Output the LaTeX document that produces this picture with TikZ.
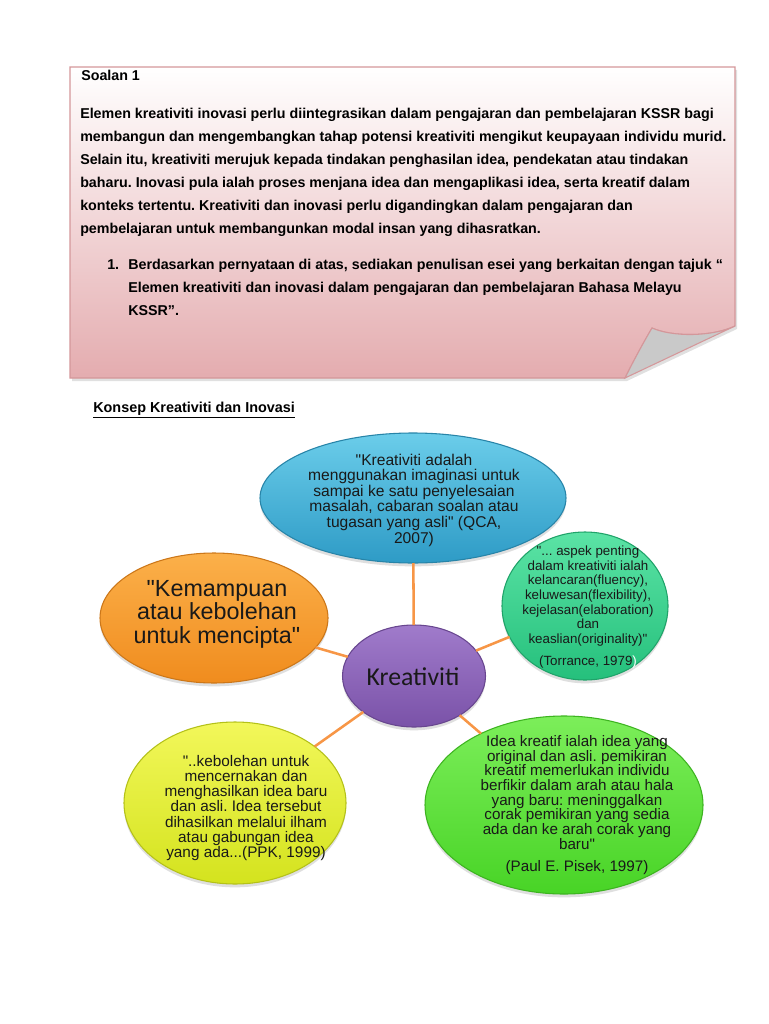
\documentclass[tikz,border=0pt]{standalone}
\usepackage{fontspec}
\setmainfont{Liberation Sans}[Ligatures=TeXOff]
\newfontfamily\calibfont{Carlito}
\usetikzlibrary{shapes.geometric,shadows}
\frenchspacing

\definecolor{linkorange}{HTML}{F79646}
\definecolor{notepink}{HTML}{E4ACAF}
\definecolor{noteedge}{HTML}{D4979A}
\definecolor{foldgrey}{HTML}{C9C9C9}
\definecolor{qcatop}{HTML}{6BCDEA}
\definecolor{qcabot}{HTML}{2E9BC6}
\definecolor{torrtop}{HTML}{5BE3A5}
\definecolor{torrbot}{HTML}{25C07C}
\definecolor{ciptatop}{HTML}{FBB04A}
\definecolor{ciptabot}{HTML}{F08C1E}
\definecolor{kretop}{HTML}{A07BCB}
\definecolor{krebot}{HTML}{7A52A8}
\definecolor{ppktop}{HTML}{F2F75A}
\definecolor{ppkbot}{HTML}{D4E31E}
\definecolor{pisektop}{HTML}{7CEE5A}
\definecolor{pisekbot}{HTML}{48D426}

\tikzset{
  bubble/.style={ellipse, line width=0.8pt, inner sep=0pt, outer sep=0pt,
    drop shadow={opacity=0.25, shadow xshift=0pt, shadow yshift=-2.5pt}},
  btext/.style={align=center, inner sep=0pt, text=black!90},
  notetext/.style={font=\bfseries\fontsize{10.7}{17.25}\selectfont, inner sep=0pt},
  link/.style={draw=linkorange, line width=1.9pt},
}

\begin{document}
\begin{tikzpicture}[x=0.75pt,y=0.75pt,yscale=-1,xscale=1]
\useasboundingbox (0,0) rectangle (768,1024);
\fill[white] (0,0) rectangle (768,1024);

% kertas soalan
\fill[black, opacity=0.12] (72,70) -- (737,70) -- (737,329) -- (627,381) -- (72,381) -- cycle ;
\draw[noteedge, line width=0.8pt, top color=white, bottom color=notepink]
  (70,67) -- (735,67) -- (735,326) .. controls (712,337) and (672,337) .. (652,328)
  .. controls (642,345) and (633,362) .. (625,378) -- (70,378) -- cycle ;
\draw[noteedge, line width=0.8pt, fill=foldgrey]
  (652,328) .. controls (672,337) and (712,337) .. (735,326) -- (625,378)
  .. controls (633,362) and (642,345) .. (652,328) -- cycle ;

\node[notetext, anchor=base west] (soal) at (81,80) {Soalan 1};
\node[notetext, anchor=north west, align=left] (para) at (80,108)
  {Elemen kreativiti inovasi perlu diintegrasikan dalam pengajaran dan pembelajaran KSSR bagi\\
   membangun dan mengembangkan tahap potensi kreativiti mengikut keupayaan individu murid.\\
   Selain itu, kreativiti merujuk kepada tindakan penghasilan idea, pendekatan atau tindakan\\
   baharu. Inovasi pula ialah proses menjana idea dan mengaplikasi idea, serta kreatif dalam\\
   konteks tertentu. Kreativiti dan inovasi perlu digandingkan dalam pengajaran dan\\
   pembelajaran untuk membangunkan modal insan yang dihasratkan.};
\node[notetext, anchor=base west] (num) at (107,269) {1.};
\node[notetext, anchor=north west, align=left] (item) at (128,259)
  {Berdasarkan pernyataan di atas, sediakan penulisan esei yang berkaitan dengan tajuk “\\
   Elemen kreativiti dan inovasi dalam pengajaran dan pembelajaran Bahasa Melayu\\
   KSSR”.};

\node[anchor=base west, inner sep=0pt, font=\bfseries\fontsize{10.8}{13}\selectfont] (judul)
  at (93,412) {\underline{Konsep Kreativiti dan Inovasi}};

% peta bulatan
\node[bubble, draw=qcabot!85!black, top color=qcatop, bottom color=qcabot,
  minimum width=229.5pt, minimum height=97.5pt] (qca) at (413,498) {};
\node[bubble, draw=torrbot!85!black, top color=torrtop, bottom color=torrbot,
  minimum width=124.5pt, minimum height=111pt] (torr) at (585,606) {};
\node[bubble, draw=ciptabot!85!black, top color=ciptatop, bottom color=ciptabot,
  minimum width=171pt, minimum height=97.5pt] (cipta) at (214,618) {};
\node[bubble, draw=krebot!85!black, top color=kretop, bottom color=krebot,
  minimum width=107.25pt, minimum height=76.5pt] (kre) at (414,676) {};
\node[bubble, draw=ppkbot!85!black, top color=ppktop, bottom color=ppkbot,
  minimum width=166.5pt, minimum height=121.5pt] (ppk) at (235,803) {};
\node[bubble, draw=pisekbot!85!black, top color=pisektop, bottom color=pisekbot,
  minimum width=208.5pt, minimum height=133.5pt] (pisek) at (564,805) {};

\draw[link] (kre) -- (qca);
\draw[link] (kre) -- (torr);
\draw[link] (kre) -- (cipta);
\draw[link] (kre) -- (ppk);
\draw[link] (kre) -- (pisek);

\node[btext, font=\fontsize{11.7}{11.7}\selectfont] (qca-t) at (414,500)
  {"Kreativiti adalah\\ menggunakan imaginasi untuk\\ sampai ke satu penyelesaian\\
   masalah, cabaran soalan atau\\ tugasan yang asli" (QCA,\\ 2007)};
\node[btext, font=\fontsize{10}{11}\selectfont] (torr-t) at (588,607)
  {"... aspek penting\\ dalam kreativiti ialah\\ kelancaran(fluency),\\ keluwesan(flexibility),\\
   kejelasan(elaboration)\\ dan\\ keaslian(originality)"\\[5.5pt] (Torrance, 1979\textcolor{white}{)}};
\node[btext, font=\fontsize{17.5}{17.6}\selectfont] (cipta-t) at (217,614)
  {"Kemampuan\\ atau kebolehan\\ untuk mencipta"};
\node[btext, font=\calibfont\fontsize{19.3}{20}\selectfont] (kre-t) at (413,677) {Kreativiti};
\node[btext, font=\fontsize{11.5}{11.4}\selectfont] (ppk-t) at (246,808)
  {"..kebolehan untuk\\ mencernakan dan\\ menghasilkan idea baru\\ dan asli. Idea tersebut\\
   dihasilkan melalui ilham\\ atau gabungan idea\\ yang ada...(PPK, 1999)};
\node[btext, font=\fontsize{11.4}{11}\selectfont] (pisek-t) at (577,805)
  {Idea kreatif ialah idea yang\\ original dan asli. pemikiran\\ kreatif memerlukan individu\\
   berfikir dalam arah atau hala\\ yang baru: meninggalkan\\ corak pemikiran yang sedia\\
   ada dan ke arah corak yang\\ baru"\\[5.5pt] (Paul E. Pisek, 1997)};

\end{tikzpicture}
\end{document}
